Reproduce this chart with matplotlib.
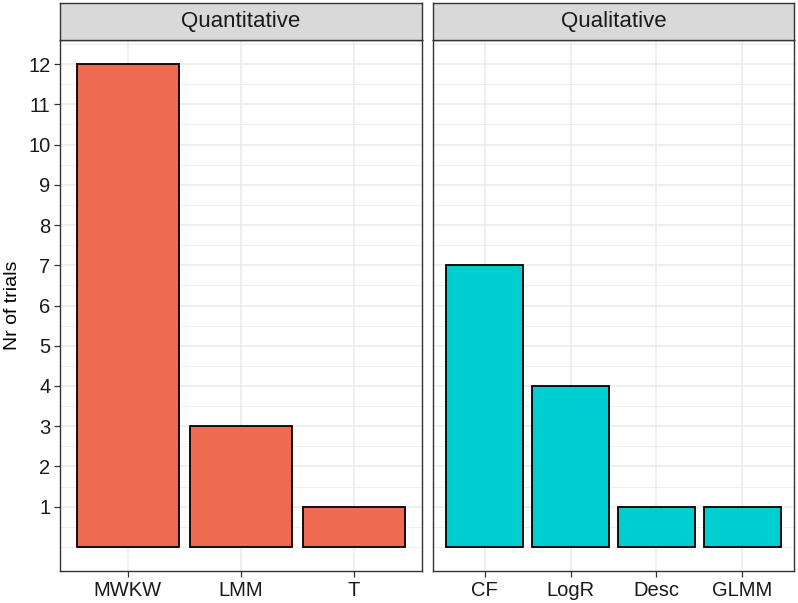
import matplotlib
matplotlib.use("Agg")
import matplotlib.pyplot as plt
import numpy as np

# data
quant_labels = ["MWKW", "LMM", "T"]
quant_values = [12, 3, 1]
qual_labels = ["CF", "LogR", "Desc", "GLMM"]
qual_values = [7, 4, 1, 1]
panel_titles = ["Quantitative", "Qualitative"]
y_ticks = list(range(1, 13))

plt.rcParams['font.family'] = ['Liberation Sans', 'DejaVu Sans']

red = "#EE6A50"
cyan = "#00CED1"
grid_col = "#EBEBEB"
frame_col = "#333333"

fig = plt.figure(figsize=(7.98, 6.03), dpi=100)

W, H = 798.0, 603.0
panels = [(60, 422), (433, 794)]
top, bottom = 40, 571
strip_top = 3

groups = [(quant_labels, quant_values, red), (qual_labels, qual_values, cyan)]

for i, ((x0, x1), (labels, vals, col), title) in enumerate(zip(panels, groups, panel_titles)):
    ax = fig.add_axes([x0 / W, 1 - bottom / H, (x1 - x0) / W, (bottom - top) / H])
    n = len(labels)
    pos = np.arange(1, n + 1)
    ax.bar(pos, vals, width=0.9, color=col, edgecolor="black", linewidth=1.3, zorder=3)
    ax.set_xlim(0.4, n + 0.6)
    ax.set_ylim(-0.6, 12.6)
    ax.set_xticks(pos)
    ax.set_xticklabels(labels, fontsize=14.5, color="#1A1A1A")
    ax.set_yticks(y_ticks)
    ax.set_yticks(np.arange(0, 13, 0.5), minor=True)
    ax.set_xticks([], minor=True)
    ax.grid(which="major", color=grid_col, linewidth=1.1, zorder=0)
    ax.yaxis.grid(which="minor", color=grid_col, linewidth=0.55, zorder=0)
    ax.set_axisbelow(True)
    for s in ax.spines.values():
        s.set_color(frame_col)
        s.set_linewidth(1.0)
    ax.tick_params(which="major", length=4, width=0.9, color=frame_col, pad=3)
    ax.tick_params(which="minor", length=0)
    if i == 0:
        ax.set_yticklabels([str(t) for t in y_ticks], fontsize=14.5, color="#1A1A1A")
        ax.set_ylabel("Nr of trials", fontsize=14, labelpad=5)
    else:
        ax.tick_params(axis="y", which="both", length=0, labelleft=False)

    # strip
    sax = fig.add_axes([x0 / W, 1 - top / H, (x1 - x0) / W, (top - strip_top) / H])
    sax.set_facecolor("#D9D9D9")
    sax.set_xticks([])
    sax.set_yticks([])
    for s in sax.spines.values():
        s.set_color(frame_col)
        s.set_linewidth(1.0)
    sax.text(0.5, 0.5, title, ha="center", va="center", fontsize=16, color="#1A1A1A",
             transform=sax.transAxes)

fig.savefig("out.png", dpi=100)
